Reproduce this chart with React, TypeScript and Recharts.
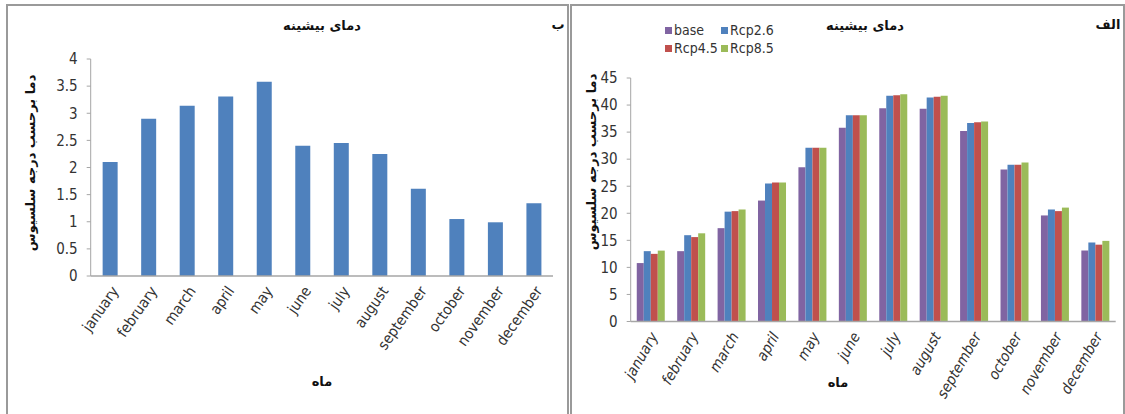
import { BarChart, Bar, XAxis, YAxis, Legend } from 'recharts';

const MONTHS = [
  'january', 'february', 'march', 'april', 'may', 'june',
  'july', 'august', 'september', 'october', 'november', 'december',
];

// panel ب : change in max temperature
const DIFF = [2.1, 2.9, 3.14, 3.31, 3.58, 2.4, 2.45, 2.25, 1.61, 1.05, 0.99, 1.34];

// panel الف : max temperature per scenario
const BASE = [10.8, 13.0, 17.25, 22.35, 28.5, 35.8, 39.4, 39.3, 35.2, 28.1, 19.6, 13.1];
const RCP26 = [13.0, 15.95, 20.3, 25.5, 32.1, 38.1, 41.7, 41.4, 36.7, 28.95, 20.7, 14.6];
const RCP45 = [12.5, 15.6, 20.4, 25.7, 32.1, 38.1, 41.8, 41.55, 36.8, 28.95, 20.4, 14.2];
const RCP85 = [13.1, 16.3, 20.7, 25.7, 32.1, 38.1, 42.0, 41.7, 36.95, 29.4, 21.05, 14.9];

const SERIES = [
  { key: 'base', name: 'base', color: '#8064A2' },
  { key: 'rcp26', name: 'Rcp2.6', color: '#4F81BD' },
  { key: 'rcp45', name: 'Rcp4.5', color: '#C0504D' },
  { key: 'rcp85', name: 'Rcp8.5', color: '#9BBB59' },
];

const LEFT_TICKS = [0, 0.5, 1, 1.5, 2, 2.5, 3, 3.5, 4];
const RIGHT_TICKS = [0, 5, 10, 15, 20, 25, 30, 35, 40, 45];

const TITLE = 'دمای بیشینه';
const Y_LABEL = 'دما برحسب درجه سلسیوس';
const X_LABEL = 'ماه';

const leftData = MONTHS.map((m, i) => ({ month: m, diff: DIFF[i] }));
const rightData = MONTHS.map((m, i) => ({
  month: m,
  base: BASE[i],
  rcp26: RCP26[i],
  rcp45: RCP45[i],
  rcp85: RCP85[i],
}));

const NUM_FONT = "'Liberation Sans Narrow', 'DejaVu Sans Condensed', sans-serif";
const FA_FONT = "'DejaVu Sans', sans-serif";
const AXIS = '#a6a6a6';
const INK = '#333333';

function LeftTick({ x, y, payload }: any) {
  const ax = x + 5;
  const ay = y + 10;
  return (
    <text
      x={ax}
      y={ay}
      dy="0.35em"
      textAnchor="end"
      transform={`rotate(-55 ${ax} ${ay})`}
      fontFamily={NUM_FONT}
      fontSize={15}
      fill={INK}
    >
      {payload.value}
    </text>
  );
}

function RightTick({ x, y, payload }: any) {
  const ax = x + 3;
  const ay = y + 10;
  return (
    <text
      x={ax}
      y={ay}
      dy="0.35em"
      textAnchor="end"
      transform={`rotate(-60 ${ax} ${ay})`}
      fontFamily={NUM_FONT}
      fontStyle="italic"
      fontSize={15}
      fill={INK}
    >
      {payload.value}
    </text>
  );
}

// fixed 2x2 legend, keeps the original series order
function ScenarioLegend() {
  return (
    <div
      style={{
        display: 'grid',
        gridTemplateColumns: '56px 60px',
        rowGap: 2,
        fontFamily: NUM_FONT,
        fontSize: 14,
        color: INK,
        lineHeight: '16px',
      }}
    >
      {SERIES.map((s) => (
        <div key={s.key} style={{ display: 'flex', alignItems: 'center' }}>
          <span style={{ width: 7, height: 7, background: s.color, marginRight: 2 }} />
          {s.name}
        </div>
      ))}
    </div>
  );
}

export default function App() {
  return (
    <div style={{ position: 'absolute', left: 0, top: 0, width: 1125, height: 414, background: '#fff', overflow: 'hidden' }}>
      {/* ب */}
      <div style={{ position: 'absolute', left: 0, top: 0 }}>
        <BarChart
          width={570}
          height={414}
          data={leftData}
          margin={{ top: 59, right: 17, bottom: 0, left: 50.7 }}
          barCategoryGap="31%"
        >
          <XAxis
            dataKey="month"
            interval={0}
            height={138}
            tickSize={0}
            tickLine={false}
            stroke={AXIS}
            strokeWidth={1.5}
            tick={<LeftTick />}
          />
          <YAxis
            width={40}
            domain={[0, 4]}
            ticks={LEFT_TICKS}
            interval={0}
            tickSize={4}
            tickMargin={9}
            stroke={AXIS}
            tick={{ fontFamily: NUM_FONT, fontSize: 15, fill: INK }}
          />
          <Bar dataKey="diff" fill="#4F81BD" isAnimationActive={false} />
        </BarChart>
      </div>

      {/* الف */}
      <div style={{ position: 'absolute', left: 571, top: 0 }}>
        <BarChart
          width={554}
          height={414}
          data={rightData}
          margin={{ top: 44, right: 9.3, bottom: 0, left: 29.7 }}
          barCategoryGap="15%"
          barGap={0}
        >
          <XAxis
            dataKey="month"
            interval={0}
            height={92.5}
            tickSize={0}
            tickLine={false}
            stroke={AXIS}
            strokeWidth={1.5}
            tick={<RightTick />}
          />
          <YAxis
            width={30}
            domain={[0, 45]}
            ticks={RIGHT_TICKS}
            interval={0}
            tickSize={4}
            tickMargin={9}
            stroke={AXIS}
            tick={{ fontFamily: NUM_FONT, fontSize: 15, fill: INK }}
          />
          <Legend
            verticalAlign="top"
            align="left"
            content={<ScenarioLegend />}
            wrapperStyle={{ position: 'absolute', left: 94, top: 22, width: 130 }}
          />
          {SERIES.map((s) => (
            <Bar key={s.key} dataKey={s.key} name={s.name} fill={s.color} isAnimationActive={false} />
          ))}
        </BarChart>
      </div>

      {/* frames and persian labels */}
      <svg width={1125} height={414} style={{ position: 'absolute', left: 0, top: 0, pointerEvents: 'none' }}>
        <rect x={7} y={5} width={561} height={420} fill="none" stroke="#9a9a9a" strokeWidth={2} />
        <rect x={571} y={5} width={553} height={420} fill="none" stroke="#9a9a9a" strokeWidth={2} />
        <g fontFamily={FA_FONT} fontWeight="bold" fill="#111" fontSize={13}>
          <text x={322} y={25} textAnchor="middle" dominantBaseline="central">{TITLE}</text>
          <text x={558} y={24} textAnchor="middle" dominantBaseline="central">ب</text>
          <text x={865} y={25} textAnchor="middle" dominantBaseline="central">{TITLE}</text>
          <text x={1108} y={24} textAnchor="middle" dominantBaseline="central">الف</text>
          <text x={322} y={381} textAnchor="middle" dominantBaseline="central">{X_LABEL}</text>
          <text x={838} y={382} textAnchor="middle" dominantBaseline="central">{X_LABEL}</text>
          <text x={30} y={163} textAnchor="middle" dominantBaseline="central" transform="rotate(-90 30 163)">{Y_LABEL}</text>
          <text x={591} y={162} textAnchor="middle" dominantBaseline="central" transform="rotate(-90 591 162)">{Y_LABEL}</text>
        </g>
      </svg>
    </div>
  );
}
